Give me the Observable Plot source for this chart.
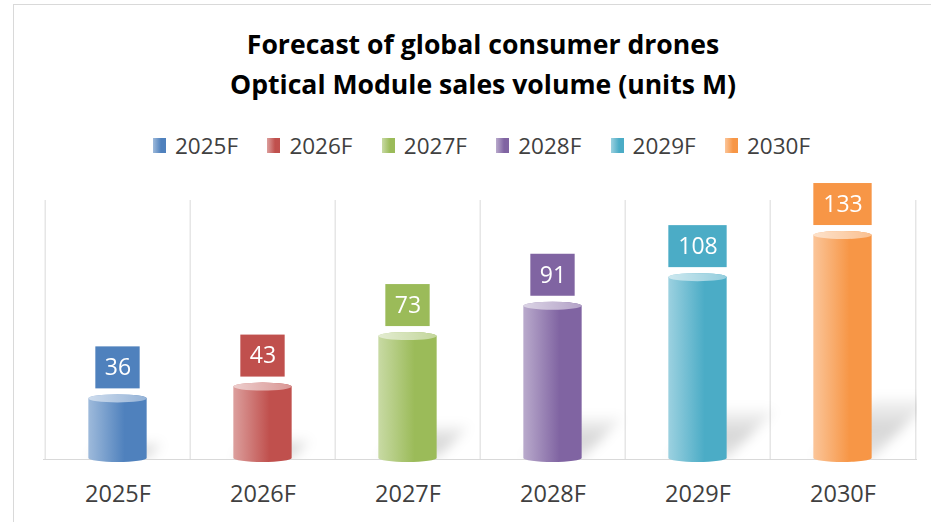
<!DOCTYPE html>
<html>
<head>
<meta charset="utf-8">
<script src="https://cdn.jsdelivr.net/npm/d3@7"></script>
<script src="https://cdn.jsdelivr.net/npm/@observablehq/plot@0.6"></script>
<style>
  body { margin: 0; background: #fff; }
  #wrap { position: relative; width: 931px; height: 522px; overflow: hidden; font-family: "Open Sans", sans-serif; background: #fff; }
  #border { position: absolute; left: 13px; top: 4px; width: 940px; height: 540px; border-left: 1px solid #d9d9d9; border-top: 1px solid #d9d9d9; box-sizing: border-box; }
  #title { position: absolute; left: 0; top: 24px; width: 966px; text-align: center; font-weight: 700; font-size: 26.6px; line-height: 40px; color: #000; }
  #legend { position: absolute; top: 131px; left: 153px; height: 28px; display: flex; }
  .item { width: 114.4px; display: flex; align-items: center; font-size: 22.5px; color: #404040; white-space: nowrap; }
  .sw { width: 13px; height: 15px; margin-right: 9px; flex: none; }
  #chart { position: absolute; left: 0; top: 170px; }
</style>
</head>
<body>
<div id="wrap">
  <div id="border"></div>
  <div id="title"></div>
  <div id="legend"></div>
  <div id="chart"></div>
</div>
<script>
const titleLines = ["Forecast of global consumer drones", "Optical Module sales volume (units M)"];
const categories = ["2025F", "2026F", "2027F", "2028F", "2029F", "2030F"];
const values = [36, 43, 73, 91, 108, 133];
const colors = ["#4F81BD", "#C0504D", "#9BBB59", "#8064A2", "#4BACC6", "#F79646"];

const lighten = (c, t) => d3.interpolateRgb(c, "#ffffff")(t);

// Title
document.getElementById("title").innerHTML = titleLines.map(t => `<div>${t}</div>`).join("");

// Legend
const legend = document.getElementById("legend");
categories.forEach((c, i) => {
  const item = document.createElement("div");
  item.className = "item";
  const sw = document.createElement("div");
  sw.className = "sw";
  sw.style.background = `linear-gradient(to right, ${lighten(colors[i], 0.45)}, ${colors[i]} 62%, ${colors[i]})`;
  const tx = document.createElement("span");
  tx.textContent = c;
  item.appendChild(sw);
  item.appendChild(tx);
  legend.appendChild(item);
});

const W = 931, H = 352, ML = 43, MR = 14, MT = 30, MB = 63;
const YMAX = 153.8;
const step = (W - ML - MR) / categories.length;
const barW = 59;
const inset = (step - barW) / 2;
const data = categories.map((c, i) => ({cat: c, value: values[i], idx: i}));

const chart = Plot.plot({
  width: W, height: H,
  marginLeft: ML, marginRight: MR, marginTop: MT, marginBottom: MB,
  style: {fontFamily: "'Open Sans', sans-serif", background: "transparent", overflow: "visible"},
  x: {domain: categories, padding: 0, label: null},
  y: {domain: [0, YMAX], axis: null},
  color: {domain: categories, range: colors},
  marks: [
    Plot.ruleX(categories, {x: d => d, y1: 0, y2: YMAX, dx: -step / 2, stroke: "#d9d9d9"}),
    Plot.ruleX([categories[categories.length - 1]], {x: d => d, y1: 0, y2: YMAX, dx: step / 2, stroke: "#d9d9d9"}),
    Plot.ruleY([0], {stroke: "#d9d9d9"}),
    Plot.barY(data, {x: "cat", y: "value", insetLeft: inset, insetRight: inset, fill: "url(#shadowGrad)", clip: true, ariaDescription: "shadow"}),
    Plot.barY(data, {x: "cat", y: "value", insetLeft: inset, insetRight: inset, insetTop: -4, insetBottom: -3, rx: 100, ry: 4, fill: "cat", ariaDescription: "body"}),
    Plot.barY(data, {x: "cat", y1: "value", y2: "value", insetLeft: inset, insetRight: inset, insetTop: -4, insetBottom: -4, rx: 100, ry: 4, fill: "cat", ariaDescription: "topface"}),
    Plot.barY(data.filter(d => d.value < 100), {x: "cat", y1: "value", y2: "value", insetLeft: (step - 45) / 2, insetRight: (step - 45) / 2, insetTop: -52, insetBottom: 10, fill: "cat", ariaDescription: "labelbox"}),
    Plot.barY(data.filter(d => d.value >= 100), {x: "cat", y1: "value", y2: "value", insetLeft: (step - 59) / 2, insetRight: (step - 59) / 2, insetTop: -52, insetBottom: 10, fill: "cat", ariaDescription: "labelbox"}),
    Plot.text(data, {x: "cat", y: "value", text: d => String(d.value), dy: -31, fill: "white", fontSize: 23}),
    Plot.axisX({tickSize: 0, tickPadding: 26, fontSize: 23.5, fill: "#404040", label: null})
  ]
});

document.getElementById("chart").appendChild(chart);

// Gradients & shadow effects
const svg = d3.select(chart);
const defs = svg.insert("defs", ":first-child");
colors.forEach((c, i) => {
  const g = defs.append("linearGradient").attr("id", "body" + i).attr("x1", 0).attr("x2", 1).attr("y1", 0).attr("y2", 0);
  g.append("stop").attr("offset", 0).attr("stop-color", lighten(c, 0.45));
  g.append("stop").attr("offset", 0.62).attr("stop-color", c);
  g.append("stop").attr("offset", 1).attr("stop-color", c);
  const t = defs.append("linearGradient").attr("id", "top" + i).attr("x1", 0).attr("x2", 1).attr("y1", 0).attr("y2", 0);
  t.append("stop").attr("offset", 0).attr("stop-color", lighten(c, 0.72));
  t.append("stop").attr("offset", 1).attr("stop-color", lighten(c, 0.4));
});
const sg = defs.append("linearGradient").attr("id", "shadowGrad").attr("x1", 0).attr("x2", 0).attr("y1", 0).attr("y2", 1);
sg.append("stop").attr("offset", 0).attr("stop-color", "#000").attr("stop-opacity", 0.04);
sg.append("stop").attr("offset", 0.5).attr("stop-color", "#000").attr("stop-opacity", 0.16);
sg.append("stop").attr("offset", 1).attr("stop-color", "#000").attr("stop-opacity", 0.1);
const blur = defs.append("filter").attr("id", "shadowBlur")
  .attr("filterUnits", "userSpaceOnUse").attr("x", 0).attr("y", 0).attr("width", W).attr("height", H);
blur.append("feGaussianBlur").attr("stdDeviation", 6);

const groupOf = name => svg.selectAll("g").filter(function() { return this.getAttribute("aria-description") === name; });

groupOf("body").selectAll("rect").attr("fill", (d, i) => `url(#body${i})`);
groupOf("topface").selectAll("rect").attr("fill", (d, i) => `url(#top${i})`);

const B = chart.scale("y").apply(0);
const sh = groupOf("shadow").attr("filter", "url(#shadowBlur)");
sh.selectAll("rect").attr("fill", "url(#shadowGrad)")
  .attr("transform", `translate(0,${B}) skewX(-45) scale(1,0.27) translate(0,${-B})`);
</script>
</body>
</html>
